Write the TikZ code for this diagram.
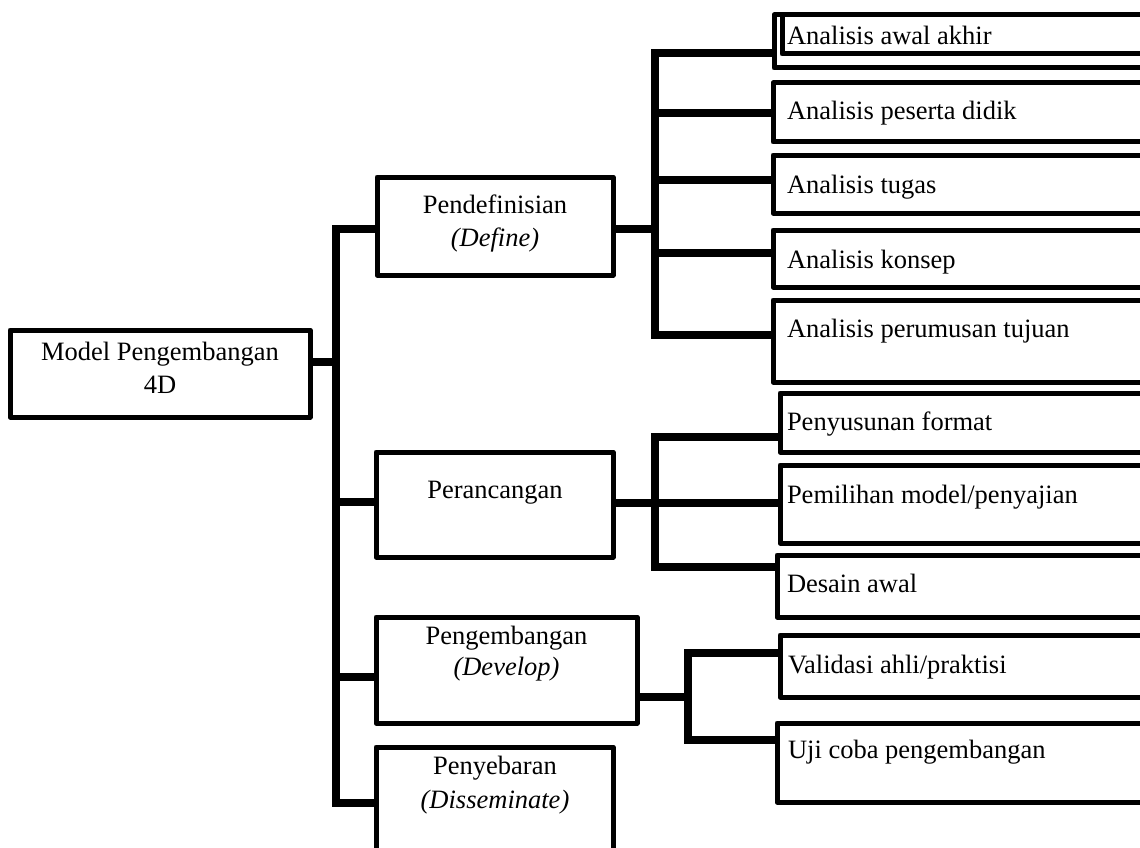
\documentclass[tikz,border=0pt]{standalone}
\usepackage{fontspec}
\setmainfont{Liberation Serif}
\begin{document}
\begin{tikzpicture}[x=1pt,y=-1pt,
  box/.style={draw=black, line width=5pt, rectangle, inner sep=0pt, outer sep=0pt, anchor=north west, line join=round},
  conn/.style={draw=black, line width=7.5pt},
  txt/.style={inner sep=0pt, outer sep=0pt, font=\fontsize{26.5}{33}\selectfont},
  lt/.style={txt, anchor=base west},
  ct/.style={txt, anchor=base}]
\useasboundingbox (0,0) rectangle (1140,848);
\clip (0,0) rectangle (1140,848);

% left column boxes
\node[box, minimum width=300, minimum height=87]  (m) at (10,330) {};
\node[box, minimum width=236, minimum height=98]  (d) at (377,177) {};
\node[box, minimum width=237, minimum height=105] (p) at (376,452) {};
\node[box, minimum width=261, minimum height=106] (g) at (376,617) {};
\node[box, minimum width=237, minimum height=120] (s) at (376,747) {};

% right column boxes
\node[box, minimum width=386, minimum height=53] (a1o) at (774,15) {};
\node[box, minimum width=378, minimum height=39] (a1i) at (782,15) {};
\node[box, minimum width=387, minimum height=59] (a2) at (773,83) {};
\node[box, minimum width=387, minimum height=58] (a3) at (773,155) {};
\node[box, minimum width=387, minimum height=57] (a4) at (773,230) {};
\node[box, minimum width=387, minimum height=82] (a5) at (773,300) {};
\node[box, minimum width=380, minimum height=59] (r1) at (780,393) {};
\node[box, minimum width=380, minimum height=78] (r2) at (780,465) {};
\node[box, minimum width=383, minimum height=62] (r3) at (777,555) {};
\node[box, minimum width=380, minimum height=62] (v1) at (780,635) {};
\node[box, minimum width=383, minimum height=79] (v2) at (777,723) {};

% junction coordinates
\coordinate (jm) at (336,362);
\coordinate (jd) at (336,229);
\coordinate (jp) at (336,502);
\coordinate (jg) at (336,677);
\coordinate (js) at (336,803);
\coordinate (k0) at (655,229);
\coordinate (k1) at (655,53);
\coordinate (k2) at (655,113);
\coordinate (k3) at (655,180);
\coordinate (k4) at (655,253);
\coordinate (k5) at (655,335);
\coordinate (q1) at (655,437);
\coordinate (q2) at (655,503);
\coordinate (q3) at (655,567);
\coordinate (w0) at (688,697);
\coordinate (w1) at (688,653);
\coordinate (w2) at (688,740);

% main tree
\draw[conn] (m.east |- jm) -- (jm);
\draw[conn] (d.west |- jd) -- (jd) -- (js) -- (s.west |- js);
\draw[conn] (jp) -- (p.west |- jp);
\draw[conn] (jg) -- (g.west |- jg);

% define subtree
\draw[conn] (d.east |- k0) -- (k0);
\draw[conn] (a1o.west |- k1) -- (k1) -- (k5) -- (a5.west |- k5);
\draw[conn] (k2) -- (a2.west |- k2);
\draw[conn] (k3) -- (a3.west |- k3);
\draw[conn] (k4) -- (a4.west |- k4);

% design subtree
\draw[conn] (r1.west |- q1) -- (q1) -- (q3) -- (r3.west |- q3);
\draw[conn] (p.east |- q2) -- (r2.west |- q2);

% develop subtree
\draw[conn] (g.east |- w0) -- (w0);
\draw[conn] (v1.west |- w1) -- (w1) -- (w2) -- (v2.west |- w2);

% texts
\node[ct] (mt1) at (160,360) {Model Pengembangan};
\node[ct] (mt2) at (160,393) {4D};
\node[ct] (dt1) at (495,213) {Pendefinisian};
\node[ct] (dt2) at (495,246) {\itshape (Define)};
\node[ct] (pt1) at (495,498) {Perancangan};
\node[ct] (gt1) at (506.5,644) {Pengembangan};
\node[ct] (gt2) at (506.5,675) {\itshape (Develop)};
\node[ct] (st1) at (495,774) {Penyebaran};
\node[ct] (st2) at (495,808) {\itshape (Disseminate)};

\node[lt] (a1t) at (787,45)  {Analisis awal akhir};
\node[lt] (a2t) at (787,120) {Analisis peserta didik};
\node[lt] (a3t) at (787,193) {Analisis tugas};
\node[lt] (a4t) at (787,268) {Analisis konsep};
\node[lt] (a5t) at (787,337) {Analisis perumusan tujuan};
\node[lt] (r1t) at (787,430) {Penyusunan format};
\node[lt] (r2t) at (787,503) {Pemilihan model/penyajian};
\node[lt] (r3t) at (787,592) {Desain awal};
\node[lt] (v1t) at (788,673) {Validasi ahli/praktisi};
\node[lt] (v2t) at (788,758) {Uji coba pengembangan};
\end{tikzpicture}
\end{document}
